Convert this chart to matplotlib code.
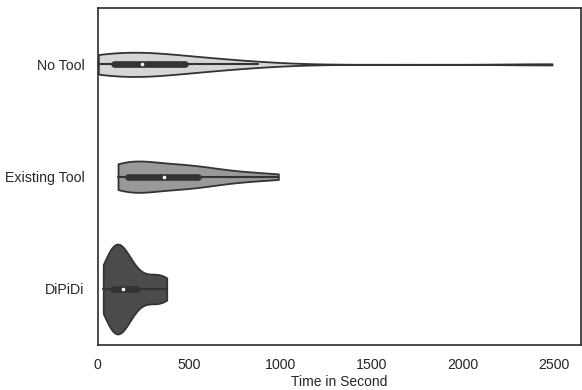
import matplotlib
matplotlib.use("Agg")
import matplotlib.pyplot as plt
import seaborn as sns
import pandas as pd

# Completion times (seconds) per approach
categories = ["No Tool", "Existing Tool", "DiPiDi"]
no_tool = [3, 12, 24, 36, 48, 60, 72, 85, 98, 112, 128, 146, 168, 195, 225,
           260, 290, 318, 348, 380, 415, 460, 487, 530, 590, 650, 715, 790, 877, 2490]
existing_tool = [111, 122, 133, 144, 153, 160, 166, 190, 218, 248, 284, 324, 364,
                 398, 430, 460, 490, 520, 550, 590, 640, 700, 780, 880, 990]
dipidi = [30, 50, 62, 70, 76, 80, 84, 93, 101, 109, 117, 125, 136, 143, 150,
          158, 168, 185, 215, 245, 280, 312, 340, 362, 378]
colors = ["#d6d6d6", "#999999", "#4b4b4b"]

groups = [no_tool, existing_tool, dipidi]
df = pd.DataFrame({
    "approach": [c for c, g in zip(categories, groups) for _ in g],
    "time": [v for g in groups for v in g],
})

sns.set_theme(style="white")
plt.rcParams["font.family"] = ["Liberation Sans", "DejaVu Sans"]

fig = plt.figure(figsize=(5.82, 3.90), dpi=100)
ax = fig.add_axes([0.168, 0.115, 0.830, 0.864])
sns.violinplot(data=df, x="time", y="approach", hue="approach", order=categories,
               palette=colors, cut=0, inner="box", linewidth=1.3,
               linecolor="#333333", saturation=1, legend=False, common_norm=True,
               inner_kws={"marker": "o", "box_width": 4.8, "whis_width": 1.5,
                          "markersize": 2.2, "markeredgewidth": 0.4},
               ax=ax)
ax.set_xlim(0, 2648)
ax.set_xlabel("Time in Second", fontsize=10, labelpad=2)
ax.set_ylabel("")
ax.tick_params(labelsize=10.2)
for s in ax.spines.values():
    s.set_color("#333333")
fig.savefig("out.png", dpi=100)
